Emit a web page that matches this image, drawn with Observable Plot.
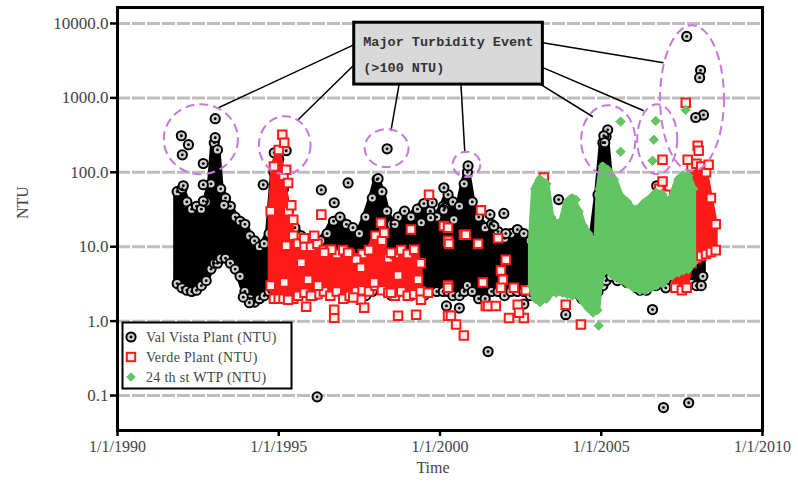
<!DOCTYPE html>
<html><head><meta charset="utf-8">
<script src="https://cdn.jsdelivr.net/npm/d3@7"></script>
<script src="https://cdn.jsdelivr.net/npm/@observablehq/plot@0.6"></script>
<style>body{margin:0;background:#fff}</style>
</head><body><div id="chart"></div>
<script>
// ---- axis ticks ----
const xTicks = [1990, 1995, 2000, 2005, 2010];
const yTicks = [0.1, 1, 10, 100, 1000, 10000];

// ---- Val Vista Plant: dense band (year, low NTU, high NTU) ----
const valVistaBandYear = [1991.85,1992.0,1992.15,1992.3,1992.45,1992.6,1992.75,1992.9,1993.0,1993.1,1993.2,1993.35,1993.5,1993.65,1993.8,1993.95,1994.1,1994.25,1994.4,1994.55,1994.7,1994.85,1995.0,1995.15,1995.3,1995.5,1995.7,1995.9,1996.1,1996.3,1996.5,1996.7,1996.9,1997.1,1997.3,1997.5,1997.7,1997.9,1998.05,1998.2,1998.35,1998.5,1998.7,1998.9,1999.1,1999.3,1999.5,1999.7,1999.9,2000.1,2000.25,2000.4,2000.6,2000.75,2000.85,2001.0,2001.2,2001.4,2001.6,2001.8,2002.0,2002.2,2002.4,2002.6,2002.8,2003.0,2003.3,2003.6,2004.0,2004.4,2004.7,2004.9,2005.05,2005.15,2005.3,2005.5,2005.8,2006.1,2006.4,2006.7,2007.0,2007.3,2007.6,2007.8,2007.95,2008.1,2008.15];
const valVistaBandLow  = [3.2,2.8,2.6,2.5,2.6,3.0,3.5,5,6,6,7,7,6,5,4,2.5,2,1.8,2,2.2,2.5,2.5,3,3,3,3,2.5,2.5,2.2,2.5,2.5,3,3,2.5,2.5,2,2.2,2.5,3,3,2.5,2.2,2.5,2.5,2.2,2.5,2.2,2.5,2.5,2.5,2.5,2.2,2.2,2.5,3,2.5,2,2,2.5,2.5,2.2,2.5,2.5,2.5,2.2,2.5,3,3,2.5,2,2,2.5,3,3.5,4,3.5,3.3,2.8,2.6,3,3.5,4,3.5,3.2,3,3,4];
const valVistaBandHigh = [55,60,40,32,35,32,40,70,250,200,60,45,35,25,22,20,14,12,10,11,15,100,150,60,30,18,14,12,10,12,15,22,25,20,18,15,25,45,80,55,30,20,25,30,25,32,38,30,25,35,50,40,35,70,100,40,25,18,20,16,13,15,17,15,12,15,20,15,12,12,10,50,250,300,60,30,25,25,30,35,40,40,30,25,15,12,9];
// ---- Val Vista Plant: individual readings ----
const valVistaYear = [1991.98,1992.2,1992.01,1992.66,1993.03,1993.03,1992.04,1992.66,1992.66,1994.52,1994.86,1995.23,1994.98,1996.32,1997.15,1996.72,1998.08,1998.36,2000.12,2000.87,1996.19,2001.49,2001.98,2001.67,2003.68,2003.9,2005.2,2005.08,2005.11,2007.65,2008.08,2008.05,2008.17,2007.93,2006.72,2007.0,2006.59,2006.93,2007.71,2000.15,2000.43,2001.55,2002.04,1999.76,2000.12,1999.42,1999.71,1998.6,1993.3,1994.09,1993.9,2006.2,2005.9,1995.45,2000.2,2000.6,2002.6];
const valVistaNTU  = [310,235,172,131,525,292,66,68,41,68,183,195,143,58,72,39,82,207,62,122,0.096,0.39,28,19,43,1.22,372,310,250,6700,2350,1870,590,545,66,2.8,1.43,0.069,0.080,33,23,27,15,39,31,21,24.5,20,36,1.77,2.1,2.6,3.3,2.7,1.6,1.5,1.7];

// ---- Verde Plant: dense band (null breaks the band) ----
const verdeBandYear = [1994.75,1994.85,1995.0,1995.15,1995.3,1995.45,1995.6,1995.8,1996.0,1996.2,1996.4,1996.6,1996.8,1997.0,1997.2,1997.4,1997.6,1997.8,1998.0,1998.2,1998.4,1998.6,1998.8,1999.0,1999.2,1999.4,2003.0,2006.8,2006.9,2007.0,2007.2,2007.3,2007.5,2007.65,2007.8,2007.95,2008.1,2008.25,2008.4,2008.55];
const verdeBandLow  = [3,2,2,2,2,2,2.2,2.4,2.2,2.3,2.5,2.2,2.5,2,2.2,2.5,2.6,2.5,3,2.6,2.4,2.2,2.5,2.2,2.3,2.5,null,35,30,20,5,2.8,2.6,2.8,6,7,7.5,8,8.5,9];
const verdeBandHigh = [30,120,200,90,30,14,11,10,10,11,9,9,8,9,8,7,8,9,14,12,7,8,9,8,9,6,null,60,75,50,30,25,30,50,120,130,120,100,45,20];
// ---- Verde Plant: individual readings ----
const verdeYear = [1995.23,1995.29,1995.39,1995.45,1995.23,1995.11,1995.17,1996.32,1999.66,1995.85,1996.72,1998.7,1999.26,2000.25,2000.5,2000.74,2001.27,2000.74,2001.42,2002.14,2002.6,2003.22,2004.37,2003.9,1998.17,1998.27,1998.48,1999.1,1999.2,1999.32,1998.7,1997.4,1997.55,1997.15,1997.96,1998.48,1999.41,1999.63,2000.12,2000.25,2000.25,1997.55,1997.31,1997.65,1996.72,1996.63,1996.41,1996.1,1995.79,1995.7,1995.91,1996.22,1996.0,1995.29,1995.17,2000.25,2000.28,2000.8,2001.18,2001.8,2002.04,2001.89,2001.95,2001.89,2002.29,2002.66,2001.33,2001.49,2001.73,2002.41,2002.45,2000.25,2000.34,2006.9,2007.62,2007.68,2007.99,2008.02,2008.33];
const verdeNTU  = [108,72,36,23,10.3,320,250,27,50,1.56,1.11,1.18,1.22,1.18,0.9,0.64,31,14.5,1.6,1.1,1.1,85,0.9,1.66,21,15.4,8.3,17,9.1,3.6,4.1,6.7,5.2,8.3,3.3,2.4,1.94,2.4,19,12,3.0,1.94,2.07,1.51,1.42,9.1,8.3,14,13,6.1,3.6,3.0,2.2,1.94,3.3,18,11,14.5,11,13,6.7,4.8,3.6,2.8,2.8,2.6,3.3,1.6,1.6,1.66,1.3,2.8,1.18,148,860,148,228,195,126];

// ---- 24th St WTP: dense band ----
const wtpBandYear = [2002.85,2002.95,2003.1,2003.3,2003.45,2003.6,2003.8,2003.95,2004.1,2004.3,2004.45,2004.6,2004.75,2004.88,2004.95,2005.05,2005.2,2005.4,2005.6,2005.8,2006.0,2006.2,2006.35,2006.55,2006.7,2006.9,2007.05,2007.2,2007.4,2007.55,2007.7,2007.85];
const wtpBandLow  = [3,2,1.8,2,2.4,2.4,2.4,2.3,2.2,2.2,1.8,1.5,1.3,1.4,3,4.5,4.9,4,3.6,3.2,2.8,2.6,2.6,2.8,3,3.2,3.8,4.1,4.5,4.8,5,6];
const wtpBandHigh = [12,60,80,70,25,20,22,40,45,30,19,15,12,10,60,120,108,80,48,40,31,33,39,45,53,50,39,45,80,90,90,60];
// ---- 24th St WTP: individual readings ----
const wtpYear = [2004.21,2004.98,2005.6,2005.6,2006.69,2006.63,2006.59,2007.62,2004.92];
const wtpNTU  = [43,24.5,480,189,490,274,143,690,0.87];

// ---- annotation: major turbidity events ----
const eventYear = [1992.6, 1995.2, 1998.36, 2000.84, 2005.23, 2006.75, 2007.83];
const eventNTU = [274, 228, 208, 126, 266, 274, 977];
const eventHalfWidthYears = [1.15, 0.8, 0.68, 0.43, 0.84, 0.62, 0.99];
const eventHalfHeightDecades = [0.47, 0.39, 0.255, 0.17, 0.47, 0.47, 0.98];
const calloutLines = ["Major Turbidity Event", "(>100 NTU)"];
const calloutBoxYears = [1997.34, 2003.19];
const calloutBoxNTU = [1510, 10240];
const calloutTextYear = 1997.62;
const calloutTextNTU = [5690, 2550];
const linkFromYear = [1997.34, 1997.34, 1998.73, 2000.65, 2003.13, 2003.19, 2003.19];
const linkFromNTU  = [5190, 2790, 1510, 1510, 1510, 2550, 5520];
const linkToYear   = [1993.13, 1995.6, 1998.48, 2000.77, 2004.74, 2006.32, 2006.93];
const linkToNTU    = [738, 509, 362, 183, 558, 673, 2970];

const seriesNames = ["Val Vista Plant (NTU)", "Verde Plant (NTU)", "24 th st WTP (NTU)"];

// ---- build tables ----
const band = (ys, lo, hi) => ys.map((t, i) => ({t, lo: lo[i], hi: hi[i]}));
const edges = (b) => b.filter(d => d.lo != null).flatMap(d => [{t: d.t, v: d.lo}, {t: d.t, v: d.hi}]);
const pts = (ys, vs) => ys.map((t, i) => ({t, v: vs[i]}));
const vvBand = band(valVistaBandYear, valVistaBandLow, valVistaBandHigh);
const veBand = band(verdeBandYear, verdeBandLow, verdeBandHigh);
const wtBand = band(wtpBandYear, wtpBandLow, wtpBandHigh);
const vvPts = edges(vvBand).concat(pts(valVistaYear, valVistaNTU));
const vePts = edges(veBand).concat(pts(verdeYear, verdeNTU));
const wtPts = edges(wtBand).concat(pts(wtpYear, wtpNTU));
const links = linkFromYear.map((x, i) => ({x1: x, y1: linkFromNTU[i], x2: linkToYear[i], y2: linkToNTU[i]}));

const GREEN = "#62c462", RED = "#ff1a1a";
const serif = "Liberation Serif, Times New Roman, serif";

const plot = Plot.plot({
  width: 798, height: 486,
  marginLeft: 117, marginRight: 36, marginTop: 7, marginBottom: 56,
  style: {fontFamily: serif, fontSize: "16px", background: "white"},
  x: {domain: [1990, 2010], axis: null},
  y: {type: "log", domain: [0.0339, 16400], axis: null},
  marks: [
    Plot.ruleY(yTicks, {stroke: "#bdbdbd", strokeWidth: 3, strokeDasharray: "13,2"}),
    // Val Vista
    Plot.areaY(vvBand, {x: "t", y1: "lo", y2: "hi", fill: "black", stroke: "black", strokeWidth: 7, strokeLinejoin: "round"}),
    Plot.dot(vvPts, {x: "t", y: "v", r: 4.6, fill: "#cfcfcf", stroke: "black", strokeWidth: 2}),
    Plot.dot(vvPts, {x: "t", y: "v", r: 1.4, fill: "black"}),
    // Verde
    Plot.areaY(veBand, {x: "t", y1: "lo", y2: "hi", fill: RED, stroke: RED, strokeWidth: 5, strokeLinejoin: "round"}),
    Plot.dot(vePts, {x: "t", y: "v", r: 4.8, symbol: "square", fill: "#fff0f0", stroke: RED, strokeWidth: 2}),
    // 24th St WTP
    Plot.areaY(wtBand, {x: "t", y1: "lo", y2: "hi", fill: GREEN, stroke: GREEN, strokeWidth: 7, strokeLinejoin: "round"}),
    Plot.dot(wtPts, {x: "t", y: "v", r: 4.2, symbol: "diamond2", fill: GREEN, stroke: GREEN, strokeWidth: 1}),
    // callout
    Plot.link(links, {x1: "x1", y1: "y1", x2: "x2", y2: "y2", stroke: "black", strokeWidth: 1.5}),
    Plot.rect([0], {x1: calloutBoxYears[0], x2: calloutBoxYears[1], y1: calloutBoxNTU[0], y2: calloutBoxNTU[1], fill: "#d9d9d9", stroke: "black", strokeWidth: 3}),
    Plot.text(calloutLines, {x: calloutTextYear, y: (d, i) => calloutTextNTU[i], text: d => d, textAnchor: "start", fontFamily: "Liberation Mono, monospace", fontWeight: "bold", fontSize: 13.5, fill: "#333"}),
    Plot.frame({stroke: "black", strokeWidth: 3}),
    Plot.axisY(yTicks, {tickFormat: d => d.toFixed(1), tickSize: 7, tickPadding: 2, stroke: "black", strokeWidth: 2.5, fill: "#444", fontSize: 17, label: null}),
    Plot.axisX(xTicks, {tickFormat: d => `1/1/${d}`, tickSize: 6, tickPadding: 4, stroke: "black", strokeWidth: 2.5, fill: "#444", fontSize: 16, label: null}),
    Plot.text(["NTU"], {frameAnchor: "left", dx: -95, rotate: -90, fontSize: 16, fill: "#444"}),
    Plot.text(["Time"], {frameAnchor: "bottom", dx: -7, dy: 42, fontSize: 16, fill: "#444"})
  ]
});

// ---- dashed event ellipses, positioned through the plot's scales ----
const sx = plot.scale("x"), sy = plot.scale("y");
const svg = d3.select(plot);
const eg = svg.append("g").attr("fill", "none").attr("stroke", "#c678dd").attr("stroke-width", 2).attr("stroke-dasharray", "9,5");
eventYear.forEach((yr, i) => {
  const cx = sx.apply(yr), cy = sy.apply(eventNTU[i]);
  const rx = sx.apply(yr + eventHalfWidthYears[i]) - cx;
  const ry = cy - sy.apply(eventNTU[i] * Math.pow(10, eventHalfHeightDecades[i]));
  eg.append("ellipse").attr("cx", cx).attr("cy", cy).attr("rx", rx).attr("ry", ry);
});

// ---- legend ----
const lg = svg.append("g").attr("font-family", serif).attr("font-size", 14).attr("fill", "#444").attr("text-anchor", "start");
lg.append("rect").attr("x", 122.5).attr("y", 322.5).attr("width", 169).attr("height", 66).attr("fill", "white").attr("stroke", "black").attr("stroke-width", 2);
const rowsY = [337, 357, 377];
seriesNames.forEach((name, i) => {
  const y = rowsY[i], x = 131;
  if (i === 0) {
    lg.append("circle").attr("cx", x).attr("cy", y).attr("r", 4.6).attr("fill", "#cfcfcf").attr("stroke", "black").attr("stroke-width", 2);
    lg.append("circle").attr("cx", x).attr("cy", y).attr("r", 1.4).attr("fill", "black");
  } else if (i === 1) {
    lg.append("rect").attr("x", x - 4.2).attr("y", y - 4.2).attr("width", 8.4).attr("height", 8.4).attr("fill", "#fff0f0").attr("stroke", RED).attr("stroke-width", 2);
  } else {
    lg.append("path").attr("d", d3.symbol(d3.symbolDiamond2, Math.PI * 4.2 * 4.2)()).attr("transform", `translate(${x},${y})`).attr("fill", GREEN);
  }
  lg.append("text").attr("x", 146).attr("y", y).attr("dy", "0.35em").attr("text-anchor", "start").attr("letter-spacing", "0.3").text(name);
});

document.getElementById("chart").append(plot);
</script>
</body></html>
